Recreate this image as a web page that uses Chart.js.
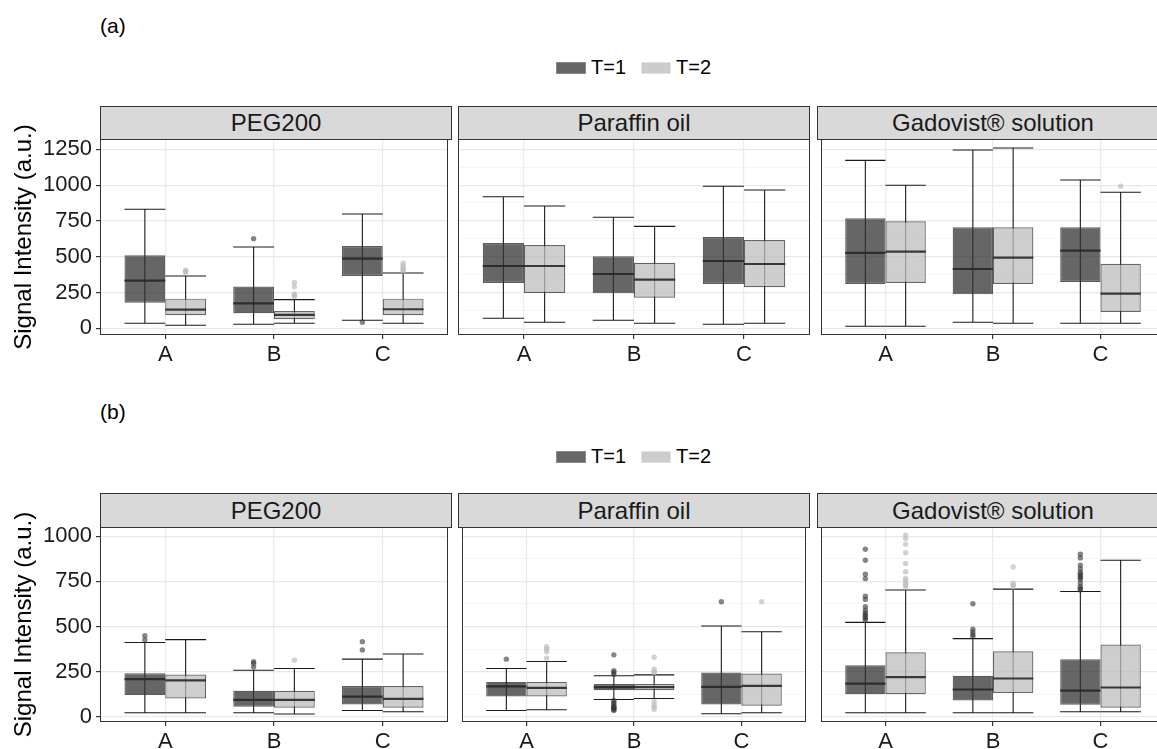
<!DOCTYPE html>
<html>
<head>
<meta charset="utf-8">
<script src="https://cdn.jsdelivr.net/npm/chart.js@4"></script>
<style>
  body { margin: 0; width: 1157px; height: 749px; overflow: hidden; background: #fff; position: relative;
         font-family: "Liberation Sans", Arial, sans-serif; }
  canvas { position: absolute; }
  .strip { position: absolute; box-sizing: border-box; border: 1px solid #333; background: #d9d9d9;
           color: #1a1a1a; font-size: 24px; text-align: center; }
  .tag { position: absolute; font-size: 21px; color: #000; }
  .legend { position: absolute; display: flex; align-items: center; font-size: 20px; color: #000; }
  .key { width: 30px; height: 12px; box-sizing: border-box; margin-right: 5px; }
</style>
</head>
<body>
<div class="tag" style="left:100px; top:14px;">(a)</div>
<div class="tag" style="left:100px; top:400px;">(b)</div>

<div class="legend" style="left:556px; top:56px;">
  <span class="key" style="background:#666; border:1px solid #8a8a8a;"></span><span>T=1</span>
  <span class="key" style="background:#ccc; border:1px solid #e0e0e0; margin-left:15px;"></span><span>T=2</span>
</div>
<div class="legend" style="left:556px; top:445px;">
  <span class="key" style="background:#666; border:1px solid #8a8a8a;"></span><span>T=1</span>
  <span class="key" style="background:#ccc; border:1px solid #e0e0e0; margin-left:15px;"></span><span>T=2</span>
</div>

<script>
// categories / facets
const categories = ['A', 'B', 'C'];
const materials = ['PEG200', 'Paraffin oil', 'Gadovist® solution'];
const yTicksA = [0, 125, 250, 375, 500, 625, 750, 875, 1000, 1125, 1250];
const yTicksB = [0, 125, 250, 375, 500, 625, 750, 875, 1000];

// (a) T=1 : [material][category]
const aT1Low  = [[35, 28, 56], [70, 56, 28], [14, 42, 35]];
const aT1Q1   = [[179, 105, 365], [316, 244, 309], [309, 237, 323]];
const aT1Med  = [[333, 174, 486], [435, 379, 470], [526, 414, 542]];
const aT1Q3   = [[510, 291, 575], [596, 503, 638], [768, 705, 705]];
const aT1High = [[831, 568, 798], [919, 775, 992], [1173, 1245, 1036]];
const aT1Out  = [[[], [626], [42]], [[], [], []], [[], [], []]];

// (a) T=2
const aT2Low  = [[21, 35, 35], [42, 35, 35], [14, 35, 35]];
const aT2Q1   = [[91, 63, 91], [247, 214, 286], [316, 309, 114]];
const aT2Med  = [[130, 93, 133], [435, 340, 449], [535, 493, 242]];
const aT2Q3   = [[207, 121, 207], [582, 458, 617], [747, 705, 451]];
const aT2High = [[365, 200, 386], [854, 712, 966], [999, 1259, 950]];
const aT2Out  = [[[390, 398, 405], [222, 230, 240, 290, 320], [400, 410, 420, 435, 455]], [[], [], []], [[], [], [992]]];

// (b) T=1
const bT1Low  = [[22, 22, 35], [35, 96, 17], [22, 22, 28]];
const bT1Q1   = [[120, 55, 68], [112, 147, 68], [125, 90, 66]];
const bT1Med  = [[208, 94, 112], [168, 164, 166], [184, 151, 145]];
const bT1Q3   = [[241, 144, 170], [193, 181, 245], [286, 227, 319]];
const bT1High = [[411, 258, 319], [267, 227, 503], [523, 433, 694]];
const bT1Out  = [
  [[425, 449], [275, 295, 305], [370, 416]],
  [[319], [35, 40, 45, 50, 55, 60, 70, 80, 90, 235, 245, 255, 343], [637]],
  [[536, 545, 555, 565, 575, 590, 610, 650, 668, 765, 790, 867, 928], [444, 455, 470, 485, 626],
   [702, 710, 720, 740, 760, 770, 780, 790, 800, 820, 840, 880, 900]]
];

// (b) T=2
const bT2Low  = [[22, 15, 28], [39, 101, 22], [22, 22, 28]];
const bT2Q1   = [[101, 50, 50], [112, 147, 61], [125, 131, 50]];
const bT2Med  = [[201, 94, 99], [160, 164, 171], [219, 212, 162]];
const bT2Q3   = [[234, 144, 170], [193, 181, 239], [357, 363, 400]];
const bT2High = [[427, 267, 348], [306, 232, 471], [702, 707, 867]];
const bT2Out  = [
  [[], [313], []],
  [[324, 360, 375, 388], [42, 55, 66, 85, 245, 250, 263, 330], [637]],
  [[720, 730, 740, 755, 766, 803, 849, 908, 956, 987, 1005], [720, 730, 740, 830], []]
];

// mise en page
const FONT = '"Liberation Sans", Arial, sans-serif';
const PADTOP = 24;
const panelLeft = [100, 458, 817];
const panelW = 352;
const rows = [
  { top: 139, plotH: 196, stripTop: 106, yMin: -47, yMax: 1322, ticks: yTicksA,
    t1: [aT1Low, aT1Q1, aT1Med, aT1Q3, aT1High, aT1Out], t2: [aT2Low, aT2Q1, aT2Med, aT2Q3, aT2High, aT2Out] },
  { top: 527, plotH: 195, stripTop: 493, yMin: -29, yMax: 1051, ticks: yTicksB,
    t1: [bT1Low, bT1Q1, bT1Med, bT1Q3, bT1High, bT1Out], t2: [bT2Low, bT2Q1, bT2Med, bT2Q3, bT2High, bT2Out] }
];
const dodge = 0.1875;   // demi-largeur d'une boite (unites de l'axe x)
const fillT1 = 'rgba(51,51,51,0.75)';
const fillT2 = 'rgba(190,190,190,0.75)';

// whiskers + caps (sous les boites), medianes (au-dessus)
function boxPlugin(t1, t2) {
  const sets = [[t1, -1], [t2, 1]];
  return {
    id: 'boxParts',
    beforeDatasetsDraw(chart) {
      const ctx = chart.ctx, xs = chart.scales.x, ys = chart.scales.y;
      ctx.save();
      ctx.strokeStyle = '#1a1a1a';
      ctx.lineWidth = 1.1;
      sets.forEach(([s, side]) => {
        categories.forEach((c, i) => {
          const cx = xs.getPixelForValue(i + 1 + side * dodge);
          const l = xs.getPixelForValue(i + 1 + side * dodge - dodge);
          const r = xs.getPixelForValue(i + 1 + side * dodge + dodge);
          const lo = ys.getPixelForValue(s.low[i]), hi = ys.getPixelForValue(s.high[i]);
          ctx.beginPath();
          ctx.moveTo(cx, lo); ctx.lineTo(cx, hi);
          ctx.moveTo(l, lo); ctx.lineTo(r, lo);
          ctx.moveTo(l, hi); ctx.lineTo(r, hi);
          ctx.stroke();
        });
      });
      ctx.restore();
    },
    afterDatasetsDraw(chart) {
      const ctx = chart.ctx, xs = chart.scales.x, ys = chart.scales.y;
      ctx.save();
      ctx.strokeStyle = 'rgba(40,40,40,0.9)';
      ctx.lineWidth = 2.2;
      sets.forEach(([s, side]) => {
        categories.forEach((c, i) => {
          const l = xs.getPixelForValue(i + 1 + side * dodge - dodge);
          const r = xs.getPixelForValue(i + 1 + side * dodge + dodge);
          const y = ys.getPixelForValue(s.med[i]);
          ctx.beginPath(); ctx.moveTo(l, y); ctx.lineTo(r, y); ctx.stroke();
        });
      });
      // cadre du panneau
      const a = chart.chartArea;
      ctx.strokeStyle = '#333';
      ctx.lineWidth = 1;
      ctx.strokeRect(a.left + 0.5, a.top + 0.5, a.right - a.left - 1, a.bottom - a.top - 1);
      ctx.restore();
    }
  };
}

function pick(arrs, m) {
  return { low: arrs[0][m], q1: arrs[1][m], med: arrs[2][m], q3: arrs[3][m], high: arrs[4][m], out: arrs[5][m] };
}

function makePanel(row, m) {
  const showY = m === 0;
  const axisW = showY ? 100 : 0;
  const canvas = document.createElement('canvas');
  canvas.width = axisW + panelW;
  canvas.height = PADTOP + row.plotH + 40;
  canvas.style.left = (panelLeft[m] - axisW) + 'px';
  canvas.style.top = (row.top - PADTOP) + 'px';
  document.body.appendChild(canvas);

  const strip = document.createElement('div');
  strip.className = 'strip';
  strip.style.left = panelLeft[m] + 'px';
  strip.style.top = row.stripTop + 'px';
  strip.style.width = panelW + 'px';
  strip.style.height = (row.top - row.stripTop + 1) + 'px';
  strip.style.lineHeight = (row.top - row.stripTop - 1) + 'px';
  strip.textContent = materials[m];
  document.body.appendChild(strip);

  const t1 = pick(row.t1, m), t2 = pick(row.t2, m);
  const outPts = (s, side) => {
    const pts = [];
    s.out.forEach((vals, i) => vals.forEach(v => pts.push({ x: i + 1 + side * dodge, y: v })));
    return pts;
  };
  const isMajor = ctx => ctx.tick && ctx.tick.value % 250 === 0;

  new Chart(canvas, {
    type: 'bar',
    data: {
      datasets: [
        { label: 'T=1', data: categories.map((c, i) => ({ x: i + 1, y: [t1.q1[i], t1.q3[i]] })),
          backgroundColor: fillT1, borderColor: 'rgba(51,51,51,0.8)', borderWidth: 1.2, borderSkipped: false,
          categoryPercentage: 0.75, barPercentage: 1 },
        { label: 'T=2', data: categories.map((c, i) => ({ x: i + 1, y: [t2.q1[i], t2.q3[i]] })),
          backgroundColor: fillT2, borderColor: 'rgba(51,51,51,0.75)', borderWidth: 1.2, borderSkipped: false,
          categoryPercentage: 0.75, barPercentage: 1 },
        { type: 'scatter', data: outPts(t1, -1), pointRadius: 2.7, borderWidth: 0,
          backgroundColor: 'rgba(51,51,51,0.6)' },
        { type: 'scatter', data: outPts(t2, 1), pointRadius: 2.7, borderWidth: 0,
          backgroundColor: 'rgba(190,190,190,0.7)' }
      ]
    },
    options: {
      responsive: false,
      animation: false,
      layout: { padding: { top: PADTOP, left: 0, right: 0, bottom: 0 } },
      plugins: { legend: { display: false }, tooltip: { enabled: false } },
      scales: {
        x: {
          type: 'linear', min: 0.4, max: 3.6, offset: false,
          afterBuildTicks: s => { s.ticks = categories.map((c, i) => ({ value: i + 1 })); },
          afterFit: s => { s.height = 40; },
          ticks: { callback: v => categories[v - 1], color: '#1a1a1a', padding: 3,
                   font: { family: FONT, size: 22 }, maxRotation: 0 },
          grid: { offset: false, color: '#ebebeb', lineWidth: 1.2, tickColor: '#333', tickLength: 4 },
          border: { display: false }
        },
        y: {
          min: row.yMin, max: row.yMax,
          afterBuildTicks: s => { s.ticks = row.ticks.map(v => ({ value: v })); },
          afterFit: s => { s.width = axisW; },
          ticks: { display: showY, callback: v => (v % 250 === 0 ? String(v) : ''), color: '#1a1a1a',
                   padding: 4, font: { family: FONT, size: 22 } },
          grid: {
            color: ctx => (isMajor(ctx) ? '#e8e8e8' : '#f2f2f2'),
            lineWidth: ctx => (isMajor(ctx) ? 1.2 : 0.8),
            tickColor: ctx => (isMajor(ctx) ? '#333' : 'rgba(0,0,0,0)'),
            tickLength: 4,
            drawTicks: showY
          },
          border: { display: false },
          title: { display: showY, text: 'Signal Intensity (a.u.)', color: '#000',
                   font: { family: FONT, size: 24 }, padding: { top: 10, bottom: 0 } }
        }
      }
    },
    plugins: [boxPlugin(t1, t2)]
  });
}

rows.forEach(row => materials.forEach((mat, m) => makePanel(row, m)));
</script>
</body>
</html>
